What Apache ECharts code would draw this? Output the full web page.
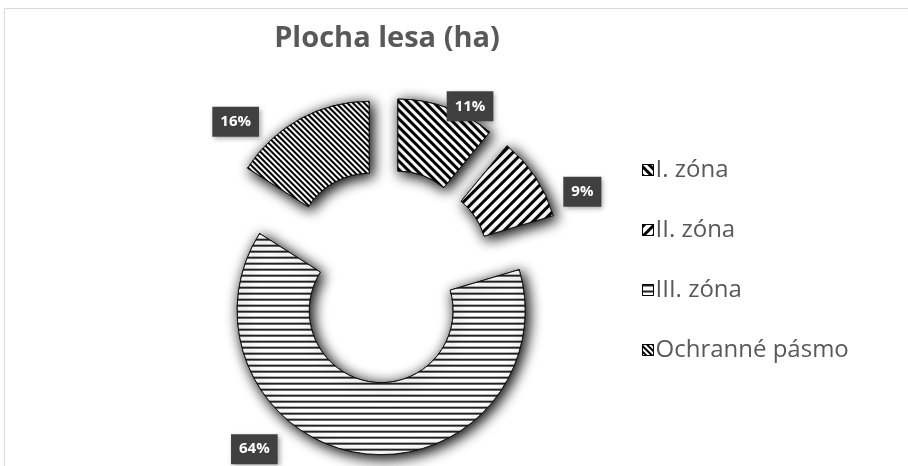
<!DOCTYPE html>
<html>
<head>
<meta charset="utf-8">
<script src="https://cdn.jsdelivr.net/npm/echarts@6/dist/echarts.min.js"></script>
<style>
  html, body { margin: 0; padding: 0; background: #fff; }
  #chart { width: 908px; height: 466px; }
</style>
</head>
<body>
<div id="chart"></div>
<script>
// zones and their share of forest area (percent)
var zones = ['I. zóna', 'II. zóna', 'III. zóna', 'Ochranné pásmo'];
var shares = [11.0, 9.4, 63.6, 16.0];

// hatch per zone
var hatches = [
  { dashArrayY: [3, 3], rotation: Math.PI / 4, color: '#000' },
  { dashArrayY: [3, 4], rotation: -Math.PI / 4, color: '#000' },
  { dashArrayY: [1.5, 4], rotation: 0, color: '#222' },
  { dashArrayY: [1.5, 1.5], rotation: Math.PI / 4, color: '#000' }
];
// nudge of each data label from its default outside spot
var labelNudge = [[-9, 10], [13, 21], [-77, -16], [-30, 13]];

var data = zones.map(function (name, i) {
  var h = hatches[i];
  return {
    name: name,
    value: shares[i],
    selected: true,
    itemStyle: {
      decal: {
        symbol: 'rect',
        symbolSize: 1,
        color: h.color,
        backgroundColor: '#fff',
        dashArrayX: [1, 0],
        dashArrayY: h.dashArrayY,
        rotation: h.rotation
      }
    }
  };
});

var chart = echarts.init(document.getElementById('chart'), null, { renderer: 'canvas' });
chart.setOption({
  backgroundColor: '#fff',
  animation: false,
  title: {
    text: 'Plocha lesa (ha)',
    left: 382,
    top: 19,
    textAlign: 'center',
    textStyle: {
      fontFamily: 'Open Sans',
      fontSize: 29,
      fontWeight: 'bold',
      color: '#595959'
    }
  },
  legend: {
    orient: 'vertical',
    left: 642,
    top: 158,
    padding: 0,
    itemWidth: 11,
    itemHeight: 11,
    itemGap: 36,
    icon: 'rect',
    data: zones,
    itemStyle: { borderColor: '#000', borderWidth: 1, shadowBlur: 0, shadowOffsetX: 0, shadowOffsetY: 0 },
    textStyle: { fontFamily: 'Open Sans', fontSize: 24, color: '#595959', padding: [0, 0, 0, -3] }
  },
  graphic: [{
    type: 'rect',
    shape: { x: 4.5, y: 8.5, width: 920, height: 480 },
    style: { fill: 'none', stroke: '#d9d9d9', lineWidth: 1 },
    silent: true
  }],
  series: [{
    type: 'pie',
    center: [386, 276],
    radius: [72, 144],
    startAngle: 90,
    clockwise: true,
    selectedMode: 'multiple',
    selectedOffset: 35,
    percentPrecision: 0,
    itemStyle: {
      color: '#fff',
      borderColor: '#111',
      borderWidth: 1,
      shadowBlur: 14,
      shadowOffsetX: 3,
      shadowOffsetY: 3,
      shadowColor: 'rgba(0,0,0,0.18)'
    },
    select: { itemStyle: { color: '#fff', borderColor: '#111', borderWidth: 1 } },
    label: {
      show: true,
      position: 'outside',
      formatter: '{d}%',
      fontFamily: 'Open Sans',
      fontSize: 15,
      fontWeight: 'bold',
      color: '#fff',
      backgroundColor: '#404040',
      padding: [8, 8, 7, 8],
      shadowBlur: 5,
      shadowOffsetX: 2,
      shadowOffsetY: 2,
      shadowColor: 'rgba(0,0,0,0.35)'
    },
    labelLine: { show: false, length: 12, length2: 0 },
    labelLayout: function (params) {
      var n = labelNudge[params.dataIndex];
      return { dx: n[0], dy: n[1] };
    },
    data: data
  }]
});
</script>
</body>
</html>
